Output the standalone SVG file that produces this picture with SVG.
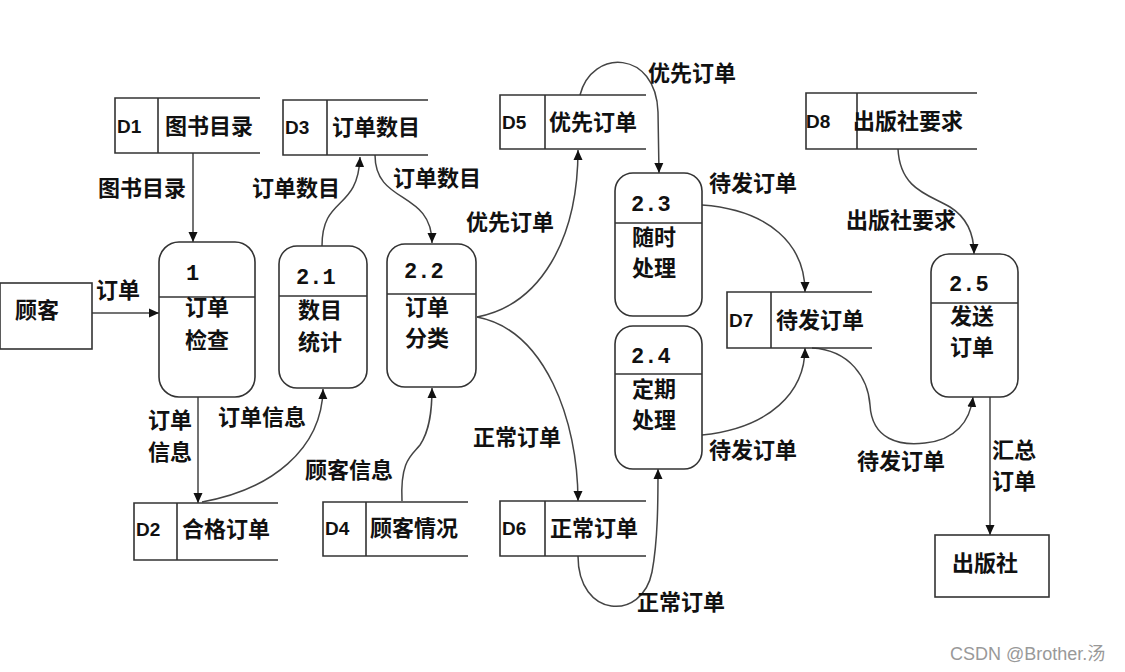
<svg xmlns="http://www.w3.org/2000/svg" width="1125" height="672" viewBox="0 0 1125 672">
<defs>
<marker id="arr" viewBox="0 0 10 10" refX="10" refY="5" markerWidth="10" markerHeight="10" markerUnits="userSpaceOnUse" orient="auto">
<path d="M0,0.5 L10,5 L0,9.5 z" fill="#111"/>
</marker>
<style>
.t{font-family:"Noto Sans CJK SC","Liberation Sans",sans-serif;font-size:22px;font-weight:bold;fill:#111;dominant-baseline:central;transform:translateY(-2px)}
.d{font-family:"Liberation Sans",sans-serif;font-size:19px;font-weight:bold;fill:#111;dominant-baseline:central}
.n{font-family:"Liberation Mono","DejaVu Sans Mono",monospace;font-size:22px;font-weight:bold;fill:#111;dominant-baseline:central}
.box{fill:#fff;stroke:#333;stroke-width:1.6}
.ln{fill:none;stroke:#333;stroke-width:1.6}
.c{fill:none;stroke:#444;stroke-width:1.5;marker-end:url(#arr)}
.wm{font-family:"Liberation Sans","Noto Sans CJK SC",sans-serif;font-size:18px;fill:#999;dominant-baseline:central}
</style>
</defs>
<rect width="1125" height="672" fill="#fff"/>

<g id="connectors">
<path class="c" d="M92,313 L159,313"/>
<path class="c" d="M193,153 L193,242"/>
<path class="c" d="M322,246 C322,195 358,212 360,157"/>
<path class="c" d="M375,155 C375,205 432,190 432,243"/>
<path class="c" d="M477,317 C540,305 578,240 578,150"/>
<path class="c" d="M477,317 C545,330 578,420 578,501"/>
<path class="c" d="M580,95 C592,48 656,50 658,112 L659,173"/>
<path class="c" d="M702,205 C770,210 805,245 805,292"/>
<path class="c" d="M702,435 C770,428 805,392 805,348"/>
<path class="c" d="M578,556 C578,618 642,622 652,572 C658,540 658,500 658,469"/>
<path class="c" d="M812,348 C850,350 868,378 870,405 C872,440 900,446 925,443 C955,440 970,422 973,397"/>
<path class="c" d="M898,149 C900,190 930,195 950,207 C966,217 974,232 974,254"/>
<path class="c" d="M990,397 L990,535"/>
<path class="c" d="M198,397 L198,503"/>
<path class="c" d="M202,502 C270,490 322,450 323,389"/>
<path class="c" d="M402,501 C400,460 412,455 420,445 C430,430 432,410 432,388"/>
</g>

<g id="labels">
<text class="t" x="96" y="290">订单</text>
<text class="t" x="98" y="188">图书目录</text>
<text class="t" x="252" y="188">订单数目</text>
<text class="t" x="393" y="178">订单数目</text>
<text class="t" x="466" y="222">优先订单</text>
<text class="t" x="473" y="437">正常订单</text>
<text class="t" x="648" y="73">优先订单</text>
<text class="t" x="709" y="183">待发订单</text>
<text class="t" x="709" y="450">待发订单</text>
<text class="t" x="637" y="602">正常订单</text>
<text class="t" x="857" y="461">待发订单</text>
<text class="t" x="846" y="220">出版社要求</text>
<text class="t" x="992" y="450">汇总</text>
<text class="t" x="992" y="481">订单</text>
<text class="t" x="148" y="420">订单</text>
<text class="t" x="148" y="452">信息</text>
<text class="t" x="218" y="417">订单信息</text>
<text class="t" x="305" y="470">顾客信息</text>
</g>

<g id="customer">
<rect class="box" x="0" y="283" width="92" height="66"/>
<text class="t" x="15" y="310">顾客</text>
</g>
<g id="publisher">
<rect class="box" x="935" y="535" width="114" height="62"/>
<text class="t" x="952" y="563">出版社</text>
</g>

<g id="p1">
<rect class="box" x="159" y="242" width="96" height="155" rx="20"/>
<line class="ln" x1="159" y1="297" x2="255" y2="297"/>
<text class="n" x="186" y="274">1</text>
<text class="t" x="185" y="307">订单</text>
<text class="t" x="185" y="340">检查</text>
</g>
<g id="p21">
<rect class="box" x="279" y="246" width="88" height="142" rx="18"/>
<line class="ln" x1="279" y1="296" x2="367" y2="296"/>
<text class="n" x="296" y="278">2.1</text>
<text class="t" x="298" y="310">数目</text>
<text class="t" x="298" y="342">统计</text>
</g>
<g id="p22">
<rect class="box" x="387" y="244" width="89" height="143" rx="18"/>
<line class="ln" x1="387" y1="294" x2="476" y2="294"/>
<text class="n" x="404" y="272">2.2</text>
<text class="t" x="405" y="307">订单</text>
<text class="t" x="405" y="338">分类</text>
</g>
<g id="p23">
<rect class="box" x="615" y="173" width="87" height="143" rx="18"/>
<line class="ln" x1="615" y1="223" x2="702" y2="223"/>
<text class="n" x="631" y="205">2.3</text>
<text class="t" x="632" y="237">随时</text>
<text class="t" x="632" y="268">处理</text>
</g>
<g id="p24">
<rect class="box" x="615" y="326" width="87" height="143" rx="18"/>
<line class="ln" x1="615" y1="374" x2="702" y2="374"/>
<text class="n" x="631" y="357">2.4</text>
<text class="t" x="632" y="389">定期</text>
<text class="t" x="632" y="420">处理</text>
</g>
<g id="p25">
<rect class="box" x="931" y="254" width="87" height="143" rx="18"/>
<line class="ln" x1="931" y1="303" x2="1018" y2="303"/>
<text class="n" x="949" y="285">2.5</text>
<text class="t" x="950" y="316">发送</text>
<text class="t" x="950" y="347">订单</text>
</g>

<g id="D1">
<path class="ln" d="M260,98 L115,98 L115,153 L260,153 M158,98 L158,153"/>
<text class="d" x="117" y="126">D1</text>
<text class="t" x="165" y="126">图书目录</text>
</g>
<g id="D3">
<path class="ln" d="M428,100 L283,100 L283,155 L428,155 M327,100 L327,155"/>
<text class="d" x="285" y="127">D3</text>
<text class="t" x="332" y="127">订单数目</text>
</g>
<g id="D5">
<path class="ln" d="M646,95 L500,95 L500,149 L646,149 M545,95 L545,149"/>
<text class="d" x="502" y="122">D5</text>
<text class="t" x="549" y="122">优先订单</text>
</g>
<g id="D8">
<path class="ln" d="M977,93 L806,93 L806,149 L977,149 M857,93 L857,149"/>
<text class="d" x="806" y="121">D8</text>
<text class="t" x="853" y="121">出版社要求</text>
</g>
<g id="D7">
<path class="ln" d="M872,292 L727,292 L727,348 L872,348 M771,292 L771,348"/>
<text class="d" x="729" y="320">D7</text>
<text class="t" x="776" y="320">待发订单</text>
</g>
<g id="D2">
<path class="ln" d="M278,503 L134,503 L134,560 L278,560 M177,503 L177,560"/>
<text class="d" x="136" y="529">D2</text>
<text class="t" x="182" y="529">合格订单</text>
</g>
<g id="D4">
<path class="ln" d="M468,502 L323,502 L323,556 L468,556 M366,502 L366,556"/>
<text class="d" x="325" y="528">D4</text>
<text class="t" x="370" y="528">顾客情况</text>
</g>
<g id="D6">
<path class="ln" d="M646,501 L500,501 L500,556 L646,556 M545,501 L545,556"/>
<text class="d" x="502" y="528">D6</text>
<text class="t" x="550" y="528">正常订单</text>
</g>

<text class="wm" x="950" y="654">CSDN @Brother.汤</text>
</svg>
